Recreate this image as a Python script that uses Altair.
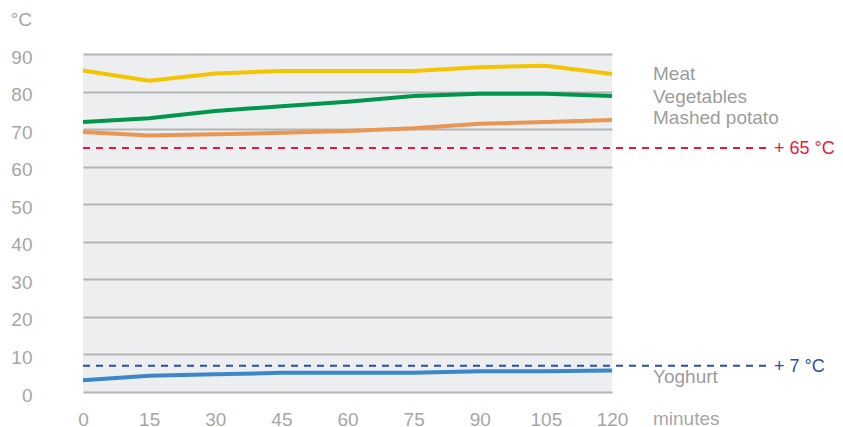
import altair as alt
import pandas as pd

minutes = [0, 15, 30, 45, 60, 75, 90, 105, 120]
meat = [85.6, 82.9, 84.8, 85.5, 85.5, 85.5, 86.5, 86.9, 84.7]
vegetables = [71.9, 72.9, 74.8, 76.1, 77.3, 78.8, 79.4, 79.4, 78.8]
mashed = [69.2, 68.3, 68.6, 69.0, 69.5, 70.2, 71.4, 71.9, 72.4]
yoghurt = [3.1, 4.3, 4.7, 5.1, 5.1, 5.1, 5.5, 5.5, 5.7]

series_names = ["Meat", "Vegetables", "Mashed potato", "Yoghurt"]
series_colors = ["#f5c400", "#00964c", "#ea9550", "#3b88c9"]
label_y = [83.1, 77.0, 71.3, 2.3]

ref_values = [65, 7]
ref_labels = ["+ 65 °C", "+ 7 °C"]
ref_colors = ["#e8193c", "#2a4fa8"]

y_ticks = [0, 10, 20, 30, 40, 50, 60, 70, 80, 90]

FONT = "Liberation Sans"
GREY = "#a6a6a6"
FS = 19

rows = []
for name, vals in zip(series_names, [meat, vegetables, mashed, yoghurt]):
    for m, v in zip(minutes, vals):
        rows.append({"minute": m, "temp": v, "series": name})
df = pd.DataFrame(rows)

labels_df = pd.DataFrame({"series": series_names, "y": label_y})
ref_df = pd.DataFrame({"v": ref_values, "label": ref_labels, "color": ref_colors})

xscale = alt.Scale(domain=[0, 120], nice=False)
yscale = alt.Scale(domain=[0, 90], nice=False)
color_scale = alt.Scale(domain=series_names, range=series_colors)


def yaxis():
    return alt.Axis(values=y_ticks, title=None, domain=False, ticks=False,
                    gridColor="#b4b4b4", gridWidth=2, labelAlign="right",
                    labelBaseline="alphabetic", labelOffset=9,
                    labelFontSize=FS, labelColor=GREY, labelFont=FONT,
                    labelPadding=51, labelOverlap=False, labelFlush=False)


lines = alt.Chart(df).mark_line(strokeWidth=4, clip=False).encode(
    x=alt.X("minute:Q", scale=xscale,
            axis=alt.Axis(values=minutes, title=None, domain=False, ticks=False, grid=False,
                          labelFontSize=FS, labelColor=GREY, labelFont=FONT,
                          labelBaseline="alphabetic",
                          labelPadding=33, labelOverlap=False, labelFlush=False)),
    y=alt.Y("temp:Q", scale=yscale, axis=yaxis()),
    color=alt.Color("series:N", scale=color_scale, legend=None),
    detail="series:N",
)

ref_rules = alt.Chart(ref_df).mark_rule(strokeWidth=2, strokeDash=[7, 6]).encode(
    x=alt.value(0),
    x2=alt.value(686),
    y=alt.Y("v:Q", scale=yscale, axis=yaxis()),
    color=alt.Color("color:N", scale=None),
)

ref_text = alt.Chart(ref_df).mark_text(align="left", baseline="alphabetic", fontSize=18,
                                      font=FONT, dy=6).encode(
    x=alt.value(691),
    y=alt.Y("v:Q", scale=yscale, axis=yaxis()),
    text="label:N",
    color=alt.Color("color:N", scale=None),
)

series_text = alt.Chart(labels_df).mark_text(align="left", baseline="alphabetic", fontSize=FS,
                                            font=FONT, color="#9c9c9c").encode(
    x=alt.value(570),
    y=alt.Y("y:Q", scale=yscale, axis=yaxis()),
    text="series:N",
)

unit_text = alt.Chart(pd.DataFrame({"t": ["°C"]})).mark_text(
    align="right", baseline="alphabetic", fontSize=FS, font=FONT, color=GREY
).encode(x=alt.value(-51), y=alt.value(-28), text="t:N")

minutes_text = alt.Chart(pd.DataFrame({"t": ["minutes"]})).mark_text(
    align="left", baseline="alphabetic", fontSize=FS, font=FONT, color=GREY
).encode(x=alt.value(570), y=alt.value(371), text="t:N")

chart = alt.layer(lines, ref_rules, ref_text, series_text, unit_text, minutes_text).properties(
    width=529, height=338,
    autosize=alt.AutoSizeParams(type="none"),
    padding={"left": 75, "top": 46, "right": 223, "bottom": 40},
).configure(
    background="white",
    view=alt.ViewConfig(fill="#edeef0", stroke=None),
)

chart.save("out.html", embed_options={"renderer": "svg", "actions": False})
